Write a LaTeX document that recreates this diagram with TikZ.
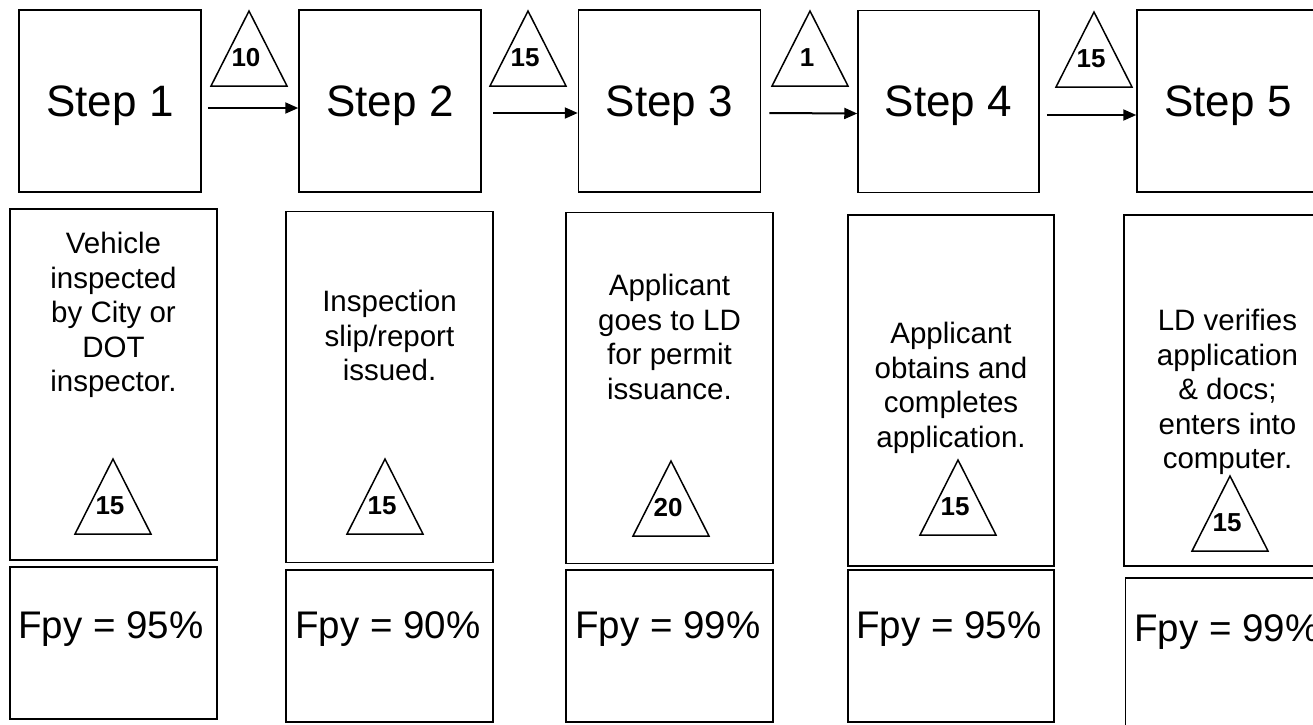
\documentclass[tikz,border=0pt]{standalone}
\usepackage{fontspec}
\setmainfont{Liberation Sans}
\usetikzlibrary{arrows.meta}

\begin{document}
\begin{tikzpicture}[x=1pt,y=-1pt,>={Triangle[length=13pt,width=11pt]},
 box/.style={draw, line width=1.5pt, inner sep=0pt},
 stepbox/.style={box, minimum width=182pt, minimum height=182pt, text depth=0pt, font=\fontsize{44}{50}\selectfont},
 descbox/.style={box, minimum width=207pt, minimum height=351pt},
 fpybox/.style={box, minimum width=207pt, minimum height=152pt},
 desc/.style={align=center, inner sep=0pt, anchor=north, font=\fontsize{29.5}{34.5}\selectfont},
 fpy/.style={inner sep=0pt, anchor=base, font=\fontsize{38.5}{44}\selectfont},
 num/.style={inner sep=0pt, font=\fontsize{26}{30}\selectfont\bfseries},
 flow/.style={->, line width=2pt},
 waittri/.pic={\draw[line width=1.5pt] (-38,0) -- (0,-75) -- (38,0) -- cycle;
  \node[num] at (-3,-28) {#1};}]
 
 \clip (0,0) rectangle (1313,724);
 
 \node[stepbox] (s1) at (110,101) {Step 1};
 \node[stepbox] (s2) at (390,101) {Step 2};
 \node[stepbox] (s3) at (669.5,101) {Step 3};
 \node[stepbox, minimum width=181pt] (s4) at (948.5,101.5) {Step 4};
 \node[stepbox] (s5) at (1228,101) {Step 5};
 
 \draw[flow] ([xshift=6pt,yshift=-7pt]s1.east) -- ([yshift=-7pt]s2.west);
 \draw[flow] ([xshift=11pt,yshift=-12pt]s2.east) -- ([yshift=-12pt]s3.west);
 \draw[flow] ([xshift=8pt,yshift=-12pt]s3.east) -- ([yshift=-12pt]s4.west);
 \draw[flow] ([xshift=7pt,yshift=-13.5pt]s4.east) -- ([yshift=-14pt]s5.west);
 
 \pic at (249,86) {waittri=10};
 \pic at (528,86) {waittri=15};
 \pic at (810,86) {waittri=1};
 \pic at (1094,87) {waittri=15};
 
 \node[descbox] (d1) at (113.5,384.5) {};
 \node[descbox] (d2) at (389.5,387) {};
 \node[descbox] (d3) at (669.5,388) {};
 \node[descbox, minimum width=206pt] (d4) at (951,390.5) {};
 \node[descbox] (d5) at (1227.5,390.5) {};
 
 \node[desc] (t1) at (113.5,232) {Vehicle\\inspected\\by City or\\DOT\\inspector.};
 \node[desc] (t2) at (389.5,290) {Inspection\\slip/report\\issued.};
 \node[desc] (t3) at (669.5,274) {Applicant\\goes to LD\\for permit\\issuance.};
 \node[desc] (t4) at (951,322) {Applicant\\obtains and\\completes\\application.};
 \node[desc] (t5) at (1227.5,309) {LD verifies\\application\\\& docs;\\enters into\\computer.};
 
 \pic at (113,534) {waittri=15};
 \pic at (385,534) {waittri=15};
 \pic at (671,536) {waittri=20};
 \pic at (958,535) {waittri=15};
 \pic at (1230,551) {waittri=15};
 
 \node[fpybox] (f1) at (113.5,643) {};
 \node[fpybox] (f2) at (389.5,646) {};
 \node[fpybox] (f3) at (669.5,646) {};
 \node[fpybox, minimum width=206pt] (f4) at (951,646) {};
 \node[fpybox] (f5) at (1229,654) {};
 
 \node[fpy] (p1) at (111,638) {Fpy = 95\%};
 \node[fpy] (p2) at (388,638) {Fpy = 90\%};
 \node[fpy] (p3) at (668,638) {Fpy = 99\%};
 \node[fpy] (p4) at (949,638) {Fpy = 95\%};
 \node[fpy] (p5) at (1227,641) {Fpy = 99\%};
 
\end{tikzpicture}
\end{document}
